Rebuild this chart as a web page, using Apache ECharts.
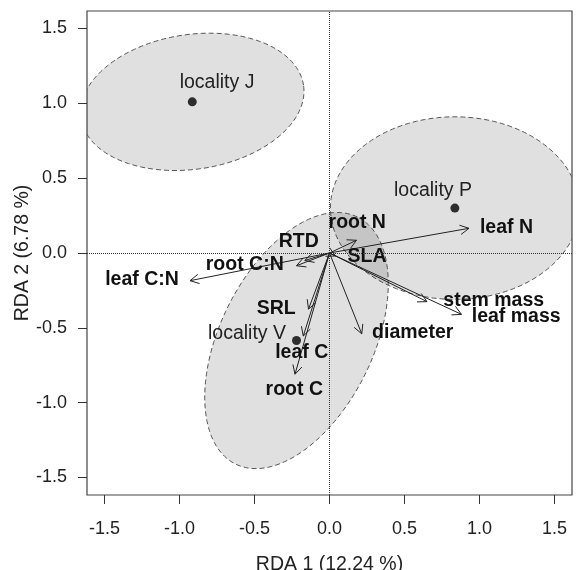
<!DOCTYPE html>
<html lang="en">
<head>
    <meta charset="UTF-8">
    <title>RDA biplot</title>
    <script src="https://cdn.jsdelivr.net/npm/echarts@6/dist/echarts.min.js"></script>
    <style>
        html, body { margin: 0; padding: 0; background: #fff; }
        #main { width: 576px; height: 570px; }
    </style>
</head>
<body>
<div id="main"></div>
<script>
    // axis ticks
    const tickValues = [-1.5, -1.0, -0.5, 0, 0.5, 1.0, 1.5];

    // site scores (group centroids)
    const localityNames = ['locality J', 'locality P', 'locality V'];
    const localityX = [-0.915, 0.836, -0.22];
    const localityY = [1.01, 0.30, -0.585];
    const localityLabelX = [-0.75, 0.69, -0.55];
    const localityLabelY = [1.14, 0.415, -0.54];

    // dispersion ellipses around each locality
    const ellipseA = [0.75, 0.83, 0.92];
    const ellipseB = [0.45, 0.61, 0.51];
    const ellipseAngle = [8.5, 0, 63.8];

    // trait vectors
    const traitNames = ['leaf N', 'leaf C:N', 'root C:N', 'RTD', 'root N', 'SLA',
        'stem mass', 'leaf mass', 'diameter', 'SRL', 'leaf C', 'root C'];
    const traitX = [0.93, -0.93, -0.22, -0.165, 0.18, 0.04, 0.65, 0.88, 0.215, -0.14, -0.175, -0.23];
    const traitY = [0.165, -0.185, -0.085, -0.05, 0.085, -0.02, -0.325, -0.41, -0.54, -0.375, -0.555, -0.81];
    const traitLabelX = [1.18, -1.25, -0.565, -0.205, 0.185, 0.25, 1.095, 1.245, 0.555, -0.355, -0.185, -0.235];
    const traitLabelY = [0.17, -0.18, -0.08, 0.075, 0.2, -0.025, -0.32, -0.425, -0.53, -0.375, -0.665, -0.915];

    const FONT = '"Liberation Sans", Arial, Helvetica, sans-serif';
    const LIM = 1.617;

    let myChart = echarts.init(document.getElementById('main'));

    function clipRect(params) {
        return {type: 'rect', shape: {
            x: params.coordSys.x, y: params.coordSys.y,
            width: params.coordSys.width, height: params.coordSys.height}};
    }

    function axisCommon(name, gap, labelMargin) {
        return {
            type: 'value',
            min: -LIM,
            max: LIM,
            name: name,
            nameLocation: 'middle',
            nameGap: gap,
            nameMoveOverlap: false,
            nameTextStyle: {fontFamily: FONT, fontSize: 19.5, color: '#222'},
            axisLine: {show: false, onZero: false},
            splitLine: {show: false},
            axisTick: {show: true, inside: false, length: 9, customValues: tickValues,
                lineStyle: {color: '#333', width: 1}},
            axisLabel: {customValues: tickValues, margin: labelMargin, fontFamily: FONT,
                fontSize: 18, color: '#222', formatter: v => v.toFixed(1)}
        };
    }

    let ellipseData = localityX.map((x, i) => [x, localityY[i], ellipseA[i], ellipseB[i], ellipseAngle[i]]);
    let arrowData = traitX.map((x, i) => [x, traitY[i]]);
    let traitLabelData = traitLabelX.map((x, i) => [x, traitLabelY[i]]);
    let localityLabelData = localityLabelX.map((x, i) => [x, localityLabelY[i]]);
    let pointData = localityX.map((x, i) => [x, localityY[i]]);

    let option = {
        animation: false,
        grid: {left: 87, right: 4, top: 11, bottom: 75, show: true, containLabel: false,
            outerBoundsMode: 'none',
            borderColor: '#444', borderWidth: 1.2, backgroundColor: 'transparent'},
        xAxis: axisCommon('RDA 1 (12.24 %)', 60, 25),
        yAxis: axisCommon('RDA 2 (6.78 %)', 54, 20),
        series: [
            {
                // ellipses
                type: 'custom',
                z: 1,
                data: ellipseData,
                encode: {x: 0, y: 1},
                renderItem: function (params, api) {
                    let cx = api.value(0), cy = api.value(1);
                    let a = api.value(2), b = api.value(3);
                    let th = api.value(4) * Math.PI / 180;
                    let pts = [];
                    for (let k = 0; k < 180; k++) {
                        let t = 2 * Math.PI * k / 180;
                        let x = cx + a * Math.cos(th) * Math.cos(t) - b * Math.sin(th) * Math.sin(t);
                        let y = cy + a * Math.sin(th) * Math.cos(t) + b * Math.cos(th) * Math.sin(t);
                        pts.push(api.coord([x, y]));
                    }
                    return {
                        type: 'polygon',
                        shape: {points: pts},
                        clipPath: clipRect(params),
                        style: {fill: 'rgba(0,0,0,0.12)', stroke: '#555', lineWidth: 1, lineDash: [5, 3]}
                    };
                }
            },
            {
                // arrows from the origin
                type: 'custom',
                z: 3,
                data: arrowData,
                encode: {x: 0, y: 1},
                markLine: {
                    silent: true,
                    symbol: 'none',
                    label: {show: false},
                    lineStyle: {type: 'dotted', color: '#333', width: 1},
                    data: [{xAxis: 0}, {yAxis: 0}]
                },
                renderItem: function (params, api) {
                    let o = api.coord([0, 0]);
                    let p = api.coord([api.value(0), api.value(1)]);
                    let ang = Math.atan2(p[1] - o[1], p[0] - o[0]);
                    let hl = 10, ha = 28 * Math.PI / 180;
                    let h1 = [p[0] - hl * Math.cos(ang - ha), p[1] - hl * Math.sin(ang - ha)];
                    let h2 = [p[0] - hl * Math.cos(ang + ha), p[1] - hl * Math.sin(ang + ha)];
                    let st = {stroke: '#222', lineWidth: 1, fill: null};
                    return {
                        type: 'group',
                        children: [
                            {type: 'line', shape: {x1: o[0], y1: o[1], x2: p[0], y2: p[1]}, style: st},
                            {type: 'polyline', shape: {points: [h1, p, h2]}, style: st}
                        ]
                    };
                }
            },
            {
                // trait labels
                type: 'custom',
                z: 4,
                data: traitLabelData,
                encode: {x: 0, y: 1},
                renderItem: function (params, api) {
                    let p = api.coord([api.value(0), api.value(1)]);
                    return {
                        type: 'text', x: p[0], y: p[1],
                        style: {text: traitNames[params.dataIndex], fontFamily: FONT, fontSize: 19.5,
                            fontWeight: 'bold', fill: '#111', align: 'center', verticalAlign: 'middle'}
                    };
                }
            },
            {
                // locality labels
                type: 'custom',
                z: 4,
                data: localityLabelData,
                encode: {x: 0, y: 1},
                renderItem: function (params, api) {
                    let p = api.coord([api.value(0), api.value(1)]);
                    return {
                        type: 'text', x: p[0], y: p[1],
                        style: {text: localityNames[params.dataIndex], fontFamily: FONT, fontSize: 19.5,
                            fill: '#222', align: 'center', verticalAlign: 'middle'}
                    };
                }
            },
            {
                type: 'scatter',
                z: 5,
                symbol: 'circle',
                symbolSize: 9,
                itemStyle: {color: '#000'},
                data: pointData
            }
        ]
    };
    myChart.setOption(option);
</script>
</body>
</html>
